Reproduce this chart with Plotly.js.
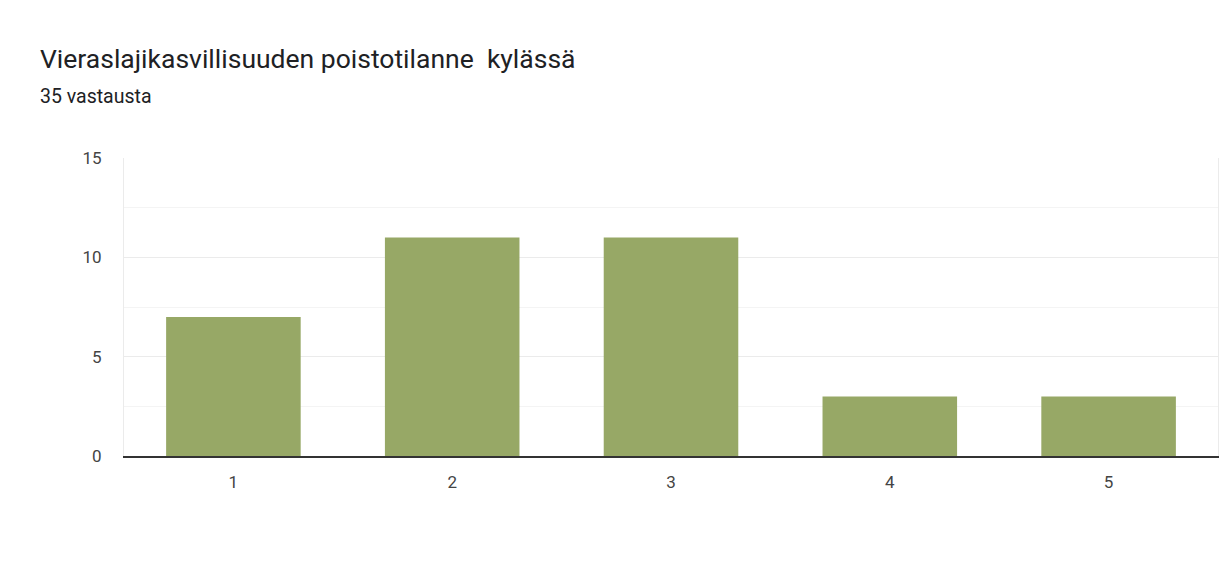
<!DOCTYPE html>
<html>
<head>
<meta charset="utf-8">
<script src="https://cdn.plot.ly/plotly-3.0.1.min.js"></script>
<style>
  html, body { margin: 0; padding: 0; background: #ffffff; }
  #chart { width: 1221px; height: 582px; }
</style>
</head>
<body>
<div id="chart"></div>
<script>
// Survey answers: rating 1–5 and number of responses for each
const categories = ['1', '2', '3', '4', '5'];
const counts = [7, 11, 11, 3, 3];
const yTicks = [0, 5, 10, 15];

const titleText = 'Vieraslajikasvillisuuden poistotilanne\u00a0 kylässä';
const subtitleText = '35 vastausta';

const trace = {
  type: 'bar',
  x: categories,
  y: counts,
  marker: { color: '#97a866' },
  hoverinfo: 'x+y'
};

const L = 124, T = 158, W = 1094, H = 298;

const layout = {
  width: 1221,
  height: 582,
  margin: { l: L, r: 1221 - L - W, t: T, b: 582 - T - H },
  paper_bgcolor: '#ffffff',
  plot_bgcolor: '#ffffff',
  bargap: 0.385,
  showlegend: false,
  font: { family: 'Roboto, Arial, sans-serif', color: '#444444' },
  title: {
    text: titleText,
    xref: 'container', yref: 'container',
    x: 40 / 1221, xanchor: 'left',
    y: 1 - 59 / 582, yanchor: 'middle',
    font: { family: 'Roboto, Arial, sans-serif', size: 26.5, color: '#202124' }
  },
  annotations: [{
    text: subtitleText,
    xref: 'paper', yref: 'paper',
    x: (38 - L) / W, xanchor: 'left',
    y: 1 + (T - 96) / H, yanchor: 'middle',
    showarrow: false,
    font: { family: 'Roboto, Arial, sans-serif', size: 19.5, color: '#202124' }
  }],
  xaxis: {
    type: 'category',
    range: [-0.5, 4.5],
    showgrid: false,
    zeroline: false,
    showline: true,
    linecolor: '#333333',
    linewidth: 2,
    ticks: '',
    ticklabelstandoff: 10,
    tickfont: { size: 17, color: '#444444' },
    fixedrange: true
  },
  yaxis: {
    range: [0, 15],
    tickvals: yTicks,
    showgrid: true,
    gridcolor: '#ebebeb',
    gridwidth: 1,
    minor: { dtick: 2.5, tick0: 0, showgrid: true, gridcolor: '#f4f4f4', gridwidth: 1 },
    zeroline: false,
    showline: true,
    mirror: true,
    linecolor: '#ebebeb',
    linewidth: 1,
    ticks: '',
    ticklabelstandoff: 18,
    tickfont: { size: 17, color: '#444444' },
    fixedrange: true
  }
};

Plotly.newPlot('chart', [trace], layout, { displayModeBar: false, staticPlot: true });
</script>
</body>
</html>
